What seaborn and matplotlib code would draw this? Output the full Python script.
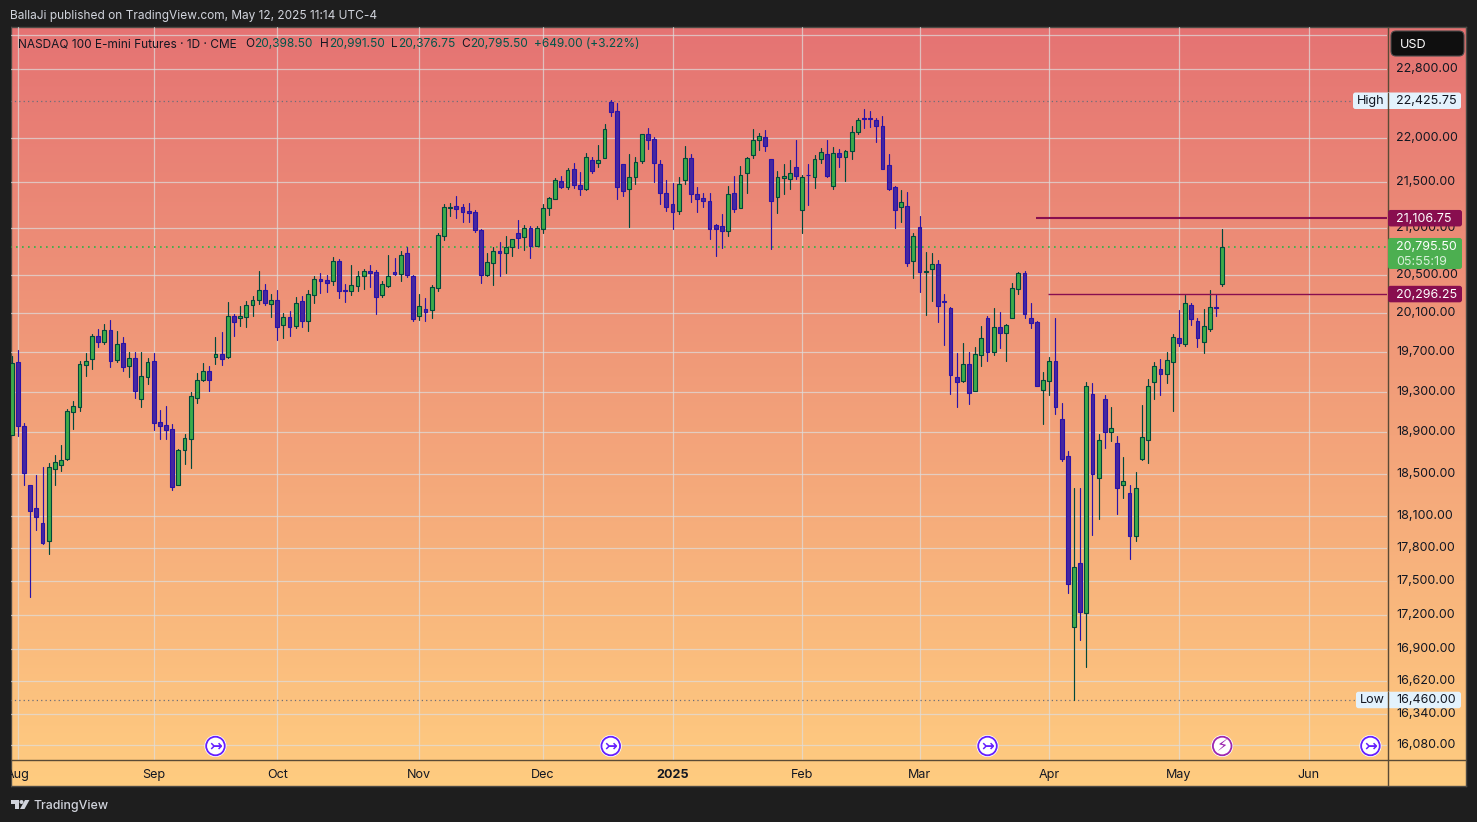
import numpy as np
import pandas as pd
import matplotlib
matplotlib.use('Agg')
import matplotlib.pyplot as plt
from matplotlib.patches import FancyBboxPatch, Circle, Rectangle, Polygon
from matplotlib.transforms import ScaledTranslation
from matplotlib.colors import LinearSegmentedColormap
import seaborn as sns

sns.set_theme(style='white')
plt.rcParams['font.family'] = ['Inter', 'DejaVu Sans']

# daily candles, 31 Jul 2024 to 12 May 2025
opens = [18869, 19593, 18957, 18389, 18172, 18032, 17870, 18548, 18586, 18643, 19101, 19143, 19570, 19630, 19858,
         19803, 19920, 19620, 19786, 19560, 19633, 19222, 19450, 19603, 18997, 18967, 18928, 18395, 18729, 18837,
         19241, 19419, 19503, 19650, 19683, 19650, 20064, 20043, 20060, 20184, 20239, 20344, 20194, 20239, 19978,
         20054, 19968, 20222, 20019, 20288, 20450, 20440, 20429, 20641, 20334, 20330, 20384, 20489, 20535, 20524,
         20288, 20384, 20524, 20510, 20736, 20482, 20071, 20136, 20133, 20362, 20918, 21220, 21245, 21224, 21181,
         21170, 20975, 20496, 20627, 20757, 20733, 20792, 20943, 20907, 20997, 20810, 20993, 21220, 21322, 21514,
         21451, 21655, 21477, 21429, 21755, 21718, 21774, 22415, 22312, 21703, 21429, 21562, 21740, 22049, 21992,
         21711, 21388, 21267, 21187, 21529, 21777, 21377, 21333, 21300, 21029, 21018, 20971, 21388, 21220, 21600,
         21807, 21977, 22015, 21766, 21340, 21551, 21540, 21677, 21198, 21588, 21562, 21762, 21822, 21462, 21833,
         21785, 21855, 22068, 22232, 22224, 22209, 22141, 21699, 21444, 21231, 21245, 20648, 21007, 20532, 20556,
         20609, 20222, 20146, 19443, 19409, 19573, 19308, 19670, 20043, 19700, 19951, 19896, 20050, 20352, 20514,
         20043, 20002, 19318, 19409, 19603, 19026, 18666, 17096, 17663, 17219, 19272, 18461, 19222, 18901, 18792,
         18396, 18313, 17917, 18643, 18827, 19398, 19524, 19480, 19600, 19838, 19782, 20177, 20013, 19803, 19936,
         20157, 20398.5]
highs = [19657, 19717, 18990, 18389, 18487, 18561, 18599, 18678, 18775, 19124, 19205, 19603, 19687, 19882, 19934,
         19985, 20026, 19913, 19848, 19697, 19697, 19697, 19633, 19687, 19117, 19156, 18980, 18736, 18882, 19298,
         19486, 19586, 19556, 19851, 19903, 20211, 20088, 20170, 20222, 20274, 20539, 20401, 20295, 20337, 20098,
         20119, 20263, 20274, 20334, 20482, 20514, 20493, 20683, 20662, 20401, 20602, 20535, 20556, 20602, 20549,
         20429, 20708, 20676, 20757, 20795, 20493, 20292, 20253, 20387, 20943, 21260, 21271, 21348, 21260, 21271,
         21195, 20986, 20729, 20792, 20849, 20914, 20878, 21087, 21029, 21019, 21019, 21260, 21334, 21550, 21570,
         21666, 21714, 21614, 21826, 21781, 21916, 22156, 22430, 22396, 21703, 21814, 21781, 22049, 22110, 22007,
         21748, 21525, 21492, 21555, 21905, 21814, 21447, 21381, 21381, 21043, 21151, 21458, 21570, 21681, 21781,
         22099, 22053, 22087, 21766, 21625, 21703, 21748, 21973, 21581, 21703, 21803, 21882, 21973, 21893, 21870,
         21867, 22133, 22224, 22327, 22304, 22232, 22247, 21814, 21458, 21414, 21392, 20946, 21130, 20740, 20729,
         20655, 20295, 20160, 19687, 19789, 19697, 19748, 19965, 20067, 20150, 20109, 19985, 20412, 20528, 20539,
         20201, 20016, 19496, 19647, 20047, 19186, 18716, 18363, 18363, 19392, 19385, 18882, 19262, 19146, 18863,
         18660, 18392, 18517, 19166, 19425, 19597, 19627, 19697, 19882, 20129, 20285, 20198, 20047, 20139, 20338,
         20296, 20991.5]
lows = [18869, 18865, 18392, 17361, 17970, 17840, 17748, 18392, 18526, 18631, 18931, 19107, 19456, 19526, 19748,
        19779, 19546, 19597, 19506, 19446, 19235, 19146, 19376, 18922, 18834, 18834, 18344, 18395, 18592, 18554,
        19186, 19405, 19303, 19576, 19566, 19637, 19861, 19965, 19954, 20067, 20191, 20181, 20057, 19821, 19841,
        19861, 19944, 19954, 19916, 20205, 20309, 20320, 20390, 20256, 20215, 20285, 20330, 20351, 20373, 20088,
        20267, 20373, 20493, 20436, 20479, 20016, 20026, 20016, 20047, 20330, 20871, 21130, 21108, 21065, 21065,
        20958, 20411, 20486, 20390, 20486, 20518, 20697, 20781, 20761, 20676, 20810, 20947, 21141, 21320, 21436,
        21425, 21436, 21358, 21418, 21603, 21670, 21774, 22247, 21314, 21347, 21011, 21481, 21714, 21870, 21503,
        21260, 21184, 20989, 21151, 21481, 21281, 21173, 21227, 20881, 20697, 20783, 20913, 21173, 21220, 21381,
        21770, 21859, 21848, 20772, 21162, 21370, 21425, 21536, 20946, 21249, 21436, 21714, 21559, 21425, 21670,
        21514, 21759, 22041, 22110, 22121, 21950, 21651, 21414, 21000, 21065, 20592, 20464, 20316, 20078, 20222,
        20006, 19769, 19277, 19147, 19395, 19176, 19308, 19556, 19606, 19667, 19738, 19606, 20050, 20295, 20047,
        19944, 19358, 18980, 19265, 19078, 18624, 17397, 16460, 16978, 16746, 17924, 18072, 18746, 18814, 18119,
        18268, 17702, 17868, 18631, 18602, 19225, 19265, 19385, 19107, 19758, 19758, 19974, 19748, 19687, 19913,
        20067, 20376.75]
closes = [19583, 18964, 18510, 18150, 18094, 17852, 18561, 18608, 18627, 19104, 19153, 19573, 19603, 19858, 19803,
          19920, 19610, 19776, 19550, 19633, 19309, 19452, 19593, 18993, 18964, 18925, 18376, 18723, 18840, 19253,
          19412, 19503, 19419, 19683, 19630, 20064, 20009, 20064, 20187, 20239, 20344, 20198, 20229, 19958, 20054,
          19958, 20198, 20019, 20292, 20450, 20429, 20415, 20641, 20330, 20330, 20387, 20482, 20535, 20521, 20267,
          20397, 20482, 20510, 20705, 20500, 20040, 20167, 20112, 20366, 20922, 21224, 21224, 21209, 21177, 21166,
          20983, 20500, 20630, 20757, 20733, 20792, 20878, 20897, 20997, 20810, 20997, 21213, 21323, 21530, 21451,
          21636, 21473, 21429, 21781, 21625, 21755, 22106, 22297, 21451, 21406, 21555, 21733, 22049, 21977, 21718,
          21384, 21231, 21177, 21488, 21777, 21373, 21318, 21296, 20993, 20993, 20971, 21377, 21209, 21588, 21777,
          21981, 22026, 21908, 21296, 21555, 21577, 21610, 21573, 21555, 21585, 21766, 21844, 21570, 21833, 21785,
          21855, 22072, 22209, 22217, 22217, 22137, 21651, 21429, 21198, 21281, 20627, 20910, 20532, 20539, 20609,
          20174, 20215, 19470, 19399, 19573, 19288, 19673, 19837, 19700, 19951, 19896, 19971, 20355, 20514, 20091,
          19999, 19358, 19412, 19603, 19150, 18643, 17477, 17627, 17228, 19352, 18501, 18821, 18901, 18939, 18366,
          18429, 17917, 18360, 18850, 19352, 19554, 19480, 19614, 19848, 19792, 20208, 20039, 19844, 19961, 20157,
          20146.5, 20795.5]

y_ticks = [23200, 22800, 22000, 21500, 21000, 20500, 20100, 19700, 19300, 18900, 18500, 18100, 17800, 17500, 17200,
           16900, 16620, 16340, 16080]
month_idx = [1, 23, 43, 66, 86, 107, 128, 147, 168, 189, 210]
month_names = ['Aug', 'Sep', 'Oct', 'Nov', 'Dec', '2025', 'Feb', 'Mar', 'Apr', 'May', 'Jun']
event_idx = [33, 97, 158, 220]
earnings_idx = 196

last_price = 20795.50
period_high = 22425.75
period_low = 16460.00
level_upper = 21106.75
level_lower = 20296.25
level_upper_start = 165.8
level_lower_start = 167.8

df = pd.DataFrame({'idx': np.arange(len(opens)), 'open': opens, 'high': highs, 'low': lows, 'close': closes})
df['up'] = df['close'] >= df['open']
df['base'] = df[['open', 'close']].min(axis=1)
df['body'] = (df['close'] - df['open']).abs()
wicks = df.melt(id_vars=['idx', 'up'], value_vars=['high', 'low'], value_name='price')

W, H = 1477, 822
fig = plt.figure(figsize=(W / 100, H / 100), dpi=100, facecolor='#1e1e1e')


def box(x0, y0, x1, y1):
    return [x0 / W, 1 - y1 / H, (x1 - x0) / W, (y1 - y0) / H]


# gradient behind the whole chart, price scale and time scale included
bg = fig.add_axes(box(11, 27, 1466, 786))
grad = LinearSegmentedColormap.from_list('grad', ['#e57373', '#ffcc80'])
bg.imshow(np.linspace(0, 1, 256)[:, None], aspect='auto', cmap=grad)
bg.set_xticks([])
bg.set_yticks([])
for s in bg.spines.values():
    s.set_color('#4d4a45')
    s.set_linewidth(1)

ax = fig.add_axes(box(10.3, 27.4, 1386.8, 760), facecolor='none')

sns.lineplot(data=wicks[wicks['up']], x='idx', y='price', units='idx', estimator=None, color='#00483c',
             linewidth=0.85, ax=ax, zorder=2)
sns.lineplot(data=wicks[~wicks['up']], x='idx', y='price', units='idx', estimator=None, color='#2a12a8',
             linewidth=0.85, ax=ax, zorder=2)
up = df[df['up']]
down = df[~df['up']]
sns.barplot(x=up['idx'].to_numpy(), y=up['body'].to_numpy(), bottom=up['base'].to_numpy(), native_scale=True,
            errorbar=None, color='#3dab4a', saturation=1, width=0.62, edgecolor='#00483c', linewidth=0.8, ax=ax,
            zorder=3)
sns.barplot(x=down['idx'].to_numpy(), y=down['body'].to_numpy(), bottom=down['base'].to_numpy(), native_scale=True,
            errorbar=None, color='#4527a0', saturation=1, width=0.62, edgecolor='#2a12a8', linewidth=0.8, ax=ax,
            zorder=3)

ax.set_yscale('log')
ax.set_xlim(-0.215, 222.65)
ax.set_ylim(15958, 23291)
ax.set_xlabel('')
ax.set_ylabel('')
ax.set_yticks(y_ticks)
# the 23,200 label sits behind the currency button in the reference
ax.set_yticklabels(['' if v == 23200 else f'{v:,.2f}' for v in y_ticks])
ax.yaxis.tick_right()
ax.set_xticks(month_idx)
ax.set_xticklabels(month_names)
ax.tick_params(axis='y', length=0, pad=6.9, labelsize=9.05, labelcolor='#131722')
ax.tick_params(axis='x', length=0, pad=6.2, labelsize=9.05, labelcolor='#131722')
ax.yaxis.set_minor_locator(matplotlib.ticker.NullLocator())
for t in ax.get_yticklabels():
    t.set_transform(t.get_transform() + ScaledTranslation(0, 1.5 / 100, fig.dpi_scale_trans))
for t in ax.get_xticklabels():
    if t.get_text() == '2025':
        t.set_fontweight('bold')
ax.grid(True, color='#dedede', alpha=0.7, linewidth=0.9)
ax.set_axisbelow(True)
for s in ax.spines.values():
    s.set_visible(False)

ax.axhline(last_price, color='#2fb344', linestyle=(0, (1, 2.6)), linewidth=1.2, zorder=1.5)
ax.axhline(period_high, color='#6d6d78', linestyle=(0, (1, 2.5)), linewidth=0.9, zorder=1.5)
ax.axhline(period_low, color='#6d6d78', linestyle=(0, (1, 2.5)), linewidth=0.9, zorder=1.5)
ax.hlines(level_upper, level_upper_start, ax.get_xlim()[1], color='#880e4f', linewidth=1.5, zorder=4)
ax.hlines(level_lower, level_lower_start, ax.get_xlim()[1], color='#880e4f', linewidth=1.0, zorder=4)

# overlay in pixel units for the price labels and the header
ov = fig.add_axes([0, 0, 1, 1], facecolor='none')
ov.set_xlim(0, W)
ov.set_ylim(H, 0)
ov.axis('off')


def price_y(p):
    return H - ax.transData.transform((0, p))[1]


def idx_x(i):
    return ax.transData.transform((i, 16000))[0]


def pill(x0, x1, yc, h, color, r=2.5, z=5):
    ov.add_patch(FancyBboxPatch((x0 + r, yc - h / 2 + r), x1 - x0 - 2 * r, h - 2 * r,
                                boxstyle=f'round,pad={r},rounding_size={r}', fc=color, ec='none', zorder=z))


sz = 9.05
hsz = 8.55
dark = '#131722'
frame = '#5a4a35'
ov.plot([1387.5, 1387.5], [27, 786], color=frame, lw=1.0, zorder=4, solid_capstyle='butt')
ov.plot([11, 1466], [760, 760], color=frame, lw=1.0, zorder=4, solid_capstyle='butt')

ov.text(10, 16, 'BallaJi published on TradingView.com, May 12, 2025 11:14 UTC-4', color='#d1d4dc', fontsize=hsz,
        va='center', ha='left')
ov.text(33, 806, 'TradingView', color='#d1d4dc', fontsize=8.9, va='center', ha='left', fontweight='medium')
# logo
ov.add_patch(Polygon([(10, 800), (19, 800), (19, 809), (15, 809), (15, 804), (10, 804)], fc='#d1d4dc', ec='none'))
ov.add_patch(Circle((21.5, 802), 2, fc='#d1d4dc', ec='none'))
ov.add_patch(Polygon([(25, 800), (29.5, 800), (24.5, 809), (20, 809)], fc='#d1d4dc', ec='none'))

ov.text(18, 44, 'NASDAQ 100 E-mini Futures · 1D · CME', color=dark, fontsize=hsz, va='center', ha='left')
green = '#00564a'
for lx, vx, letter, val in [(245, 254, 'O', '20,398.50'), (320, 329, 'H', '20,991.50'),
                            (391, 398, 'L', '20,376.75'), (461.5, 470, 'C', '20,795.50')]:
    ov.text(lx, 44, letter, color=dark, fontsize=hsz, va='center', ha='left')
    ov.text(vx, 44, val, color=green, fontsize=hsz, va='center', ha='left')
ov.text(534, 44, '+649.00 (+3.22%)', color=green, fontsize=hsz, va='center', ha='left')

# currency button
ov.add_patch(FancyBboxPatch((1394, 34), 67, 19, boxstyle='round,pad=3,rounding_size=5', fc='#0f0f0f', ec='#4a4a4a',
                            lw=0.8, zorder=6))
ov.text(1400, 44.5, 'USD', color='#ffffff', fontsize=sz, va='center', ha='left', zorder=7)

# high and low tags
y = price_y(period_high)
pill(1353, 1461, y, 16.5, '#e3f2fd')
ov.text(1357, y + 0.5, 'High', color=dark, fontsize=sz, va='center', ha='left', zorder=7)
ov.text(1396, y + 0.5, f'{period_high:,.2f}', color=dark, fontsize=sz, va='center', ha='left', zorder=7)
y = price_y(period_low)
pill(1356, 1461, y, 16.5, '#e3f2fd')
ov.text(1360, y + 0.5, 'Low', color=dark, fontsize=sz, va='center', ha='left', zorder=7)
ov.text(1396, y + 0.5, f'{period_low:,.2f}', color=dark, fontsize=sz, va='center', ha='left', zorder=7)
ov.plot([1387.5, 1387.5], [price_y(period_high) - 8, price_y(period_high) + 8], color=frame, lw=1.0, zorder=6)
ov.plot([1387.5, 1387.5], [price_y(period_low) - 8, price_y(period_low) + 8], color=frame, lw=1.0, zorder=6)

# level tags
for level in (level_upper, level_lower):
    y = price_y(level)
    pill(1388, 1462, y, 16.5, '#880e4f')
    ov.text(1396, y + 1, f'{level:,.2f}', color='#ffffff', fontsize=sz, va='center', ha='left', zorder=7)

# last price tag
y = price_y(last_price)
pill(1388, 1462, y + 6.5, 31, '#4caf50')
ov.text(1396, y + 0.5, f'{last_price:,.2f}', color='#ffffff', fontsize=sz, va='center', ha='left', zorder=7)
ov.text(1396, y + 15, '05:55:19', color='#d6f0d8', fontsize=sz, va='center', ha='left', zorder=7)

# event markers
for i in event_idx:
    xc = idx_x(i)
    ov.add_patch(Circle((xc, 746), 11, fc='#ffffff', ec='none', zorder=5))
    ov.add_patch(Circle((xc, 746), 9.3, fc='#ffffff', ec='#651fff', lw=1.3, zorder=6))
    ov.text(xc, 745.5, '↣', color='#651fff', fontsize=11, va='center', ha='center', zorder=7,
            family='DejaVu Sans', fontweight='bold')
xc = idx_x(earnings_idx)
ov.add_patch(Circle((xc, 746), 11, fc='#ffffff', ec='none', zorder=5))
ov.add_patch(Circle((xc, 746), 9.3, fc='#ffffff', ec='#9c27b0', lw=1.3, zorder=6))
ov.text(xc, 746, '⚡', color='#9c27b0', fontsize=11.5, va='center', ha='center', zorder=7, family='DejaVu Sans',
        fontweight='bold')

# cut the first month label at the chart edge
fig.add_artist(Rectangle((0, 0), 10.5 / W, 1, transform=fig.transFigure, fc='#1e1e1e', ec='none', zorder=10))

fig.savefig('out.png', dpi=100, facecolor=fig.get_facecolor())
